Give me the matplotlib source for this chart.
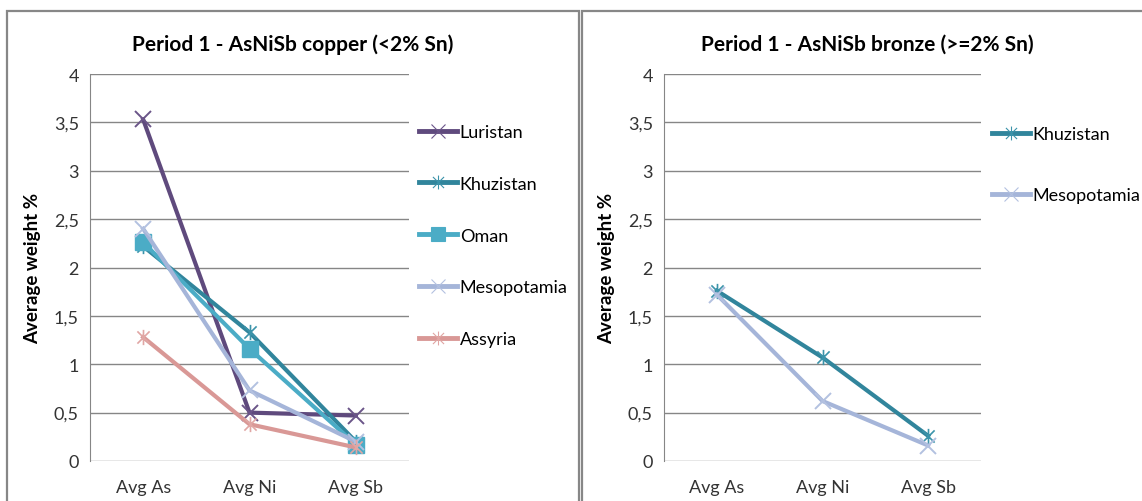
import numpy as np
import matplotlib
matplotlib.use("Agg")
import matplotlib.pyplot as plt
from matplotlib.path import Path
from matplotlib.lines import Line2D
from matplotlib.patches import Rectangle

# -----------------------------------------------------------------------------
# DATA
# -----------------------------------------------------------------------------
categories = ["Avg As", "Avg Ni", "Avg Sb"]
y_ticks = [0, 0.5, 1, 1.5, 2, 2.5, 3, 3.5, 4]
y_tick_labels = ["0", "0,5", "1", "1,5", "2", "2,5", "3", "3,5", "4"]

copper_title = "Period 1 - AsNiSb copper (<2% Sn)"
copper_series = ["Luristan", "Khuzistan", "Oman", "Mesopotamia", "Assyria"]
copper_luristan = [3.53, 0.50, 0.47]
copper_khuzistan = [2.22, 1.33, 0.20]
copper_oman = [2.26, 1.16, 0.17]
copper_mesopotamia = [2.40, 0.73, 0.20]
copper_assyria = [1.28, 0.38, 0.14]

bronze_title = "Period 1 - AsNiSb bronze (>=2% Sn)"
bronze_series = ["Khuzistan", "Mesopotamia"]
bronze_khuzistan = [1.76, 1.07, 0.26]
bronze_mesopotamia = [1.72, 0.62, 0.16]

# -----------------------------------------------------------------------------
# STYLE
# -----------------------------------------------------------------------------
plt.rcParams['font.family'] = ['Lato', 'DejaVu Sans']

# Excel "star" marker: an x with a vertical bar through it
STAR = Path(
    [(-1, -1), (1, 1), (-1, 1), (1, -1), (0, -1.25), (0, 1.25)],
    [Path.MOVETO, Path.LINETO, Path.MOVETO, Path.LINETO, Path.MOVETO, Path.LINETO],
)

styles = {
    "Luristan":    dict(color="#5F4A7D", marker="x", ms=11, mec="#6B5589", mew=1.4),
    "Khuzistan":   dict(color="#31859C", marker=STAR, ms=11, mec="#3B93AA", mew=1.2),
    "Oman":        dict(color="#4BACC6", marker="s", ms=11, mec="#4BACC6", mfc="#4BACC6", mew=1),
    "Mesopotamia": dict(color="#A5B5D9", marker="x", ms=11, mec="#B3C1E0", mew=1.4),
    "Assyria":     dict(color="#D99896", marker=STAR, ms=11, mec="#E0A6A4", mew=1.2),
}

W, H = 1142, 502
fig = plt.figure(figsize=(W / 100, H / 100), dpi=100)


def px_rect(left, top, right, bottom):
    return [left / W, 1 - bottom / H, (right - left) / W, (bottom - top) / H]


# chart frames
for x0, x1 in [(7, 579), (582, 1160)]:
    fig.patches.append(Rectangle((x0 / W, -0.1), (x1 - x0) / W, 1.1 - 12 / H,
                                 transform=fig.transFigure, fill=False,
                                 edgecolor="#878787", linewidth=1.6))


def draw_panel(rect, title, title_x, names, values, legend_anchor, spacing):
    ax = fig.add_axes(rect)
    x = np.arange(len(categories))
    for name, vals in zip(names, values):
        st = styles[name]
        ax.plot(x, vals, color=st["color"], linewidth=3, marker=st["marker"],
                markersize=st["ms"], markeredgecolor=st["mec"],
                markerfacecolor=st.get("mfc", "none"), markeredgewidth=st["mew"],
                label=name, solid_joinstyle="round")
    ax.set_xlim(-0.5, len(categories) - 0.5)
    ax.set_ylim(0, 4)
    ax.set_yticks(y_ticks)
    ax.set_yticklabels(y_tick_labels)
    ax.set_xticks(x)
    ax.set_xticklabels(categories)
    ax.tick_params(axis="both", length=0, labelsize=13, colors="#333333", pad=8)
    ax.tick_params(axis="x", pad=13)
    ax.grid(axis="y", color="#868686", linewidth=1)
    ax.set_axisbelow(True)
    for side in ["top", "right", "bottom"]:
        ax.spines[side].set_visible(False)
    ax.spines["left"].set_color("#868686")
    ax.set_ylabel("Average weight %", fontsize=13.5, fontweight="bold", labelpad=9)
    fig.text(title_x / W, 1 - 45 / H, title, fontsize=15, fontweight="bold",
             ha="center", va="center")

    handles = []
    for name in names:
        st = styles[name]
        handles.append(Line2D([], [], color=st["color"], linewidth=3.5,
                              marker=st["marker"], markersize=10,
                              markeredgecolor=st["mec"],
                              markerfacecolor=st.get("mfc", "none"),
                              markeredgewidth=0.8))
    ax.legend(handles, names, loc="upper left", bbox_to_anchor=legend_anchor,
              bbox_transform=fig.transFigure, frameon=False, fontsize=13,
              handlelength=2.1, handletextpad=0.15, labelspacing=spacing,
              borderpad=0)
    return ax


draw_panel(px_rect(90, 75, 409, 462), copper_title, 293, copper_series,
           [copper_luristan, copper_khuzistan, copper_oman,
            copper_mesopotamia, copper_assyria],
           (410 / W, 1 - 116 / H), 1.98)

draw_panel(px_rect(664, 75, 981, 462), bronze_title, 867, bronze_series,
           [bronze_khuzistan, bronze_mesopotamia],
           (983 / W, 1 - 118 / H), 2.5)

fig.savefig("out.png", dpi=100)
